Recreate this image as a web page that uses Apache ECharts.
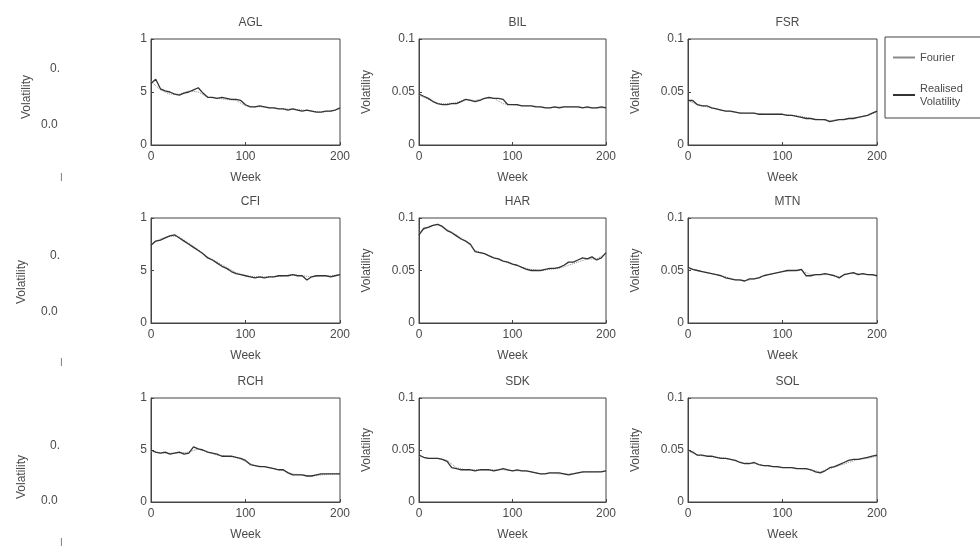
<!DOCTYPE html>
<html><head><meta charset="utf-8">
<script src="https://cdn.jsdelivr.net/npm/echarts@6/dist/echarts.min.js"></script>
<style>html,body{margin:0;padding:0;background:#fff}#c{width:980px;height:557px}</style>
</head><body><div id="c"></div>
<script>
const stocks = ['AGL','BIL','FSR','CFI','HAR','MTN','RCH','SDK','SOL'];
const xTicks = [0,100,200];
const yTicks = [0,0.05,0.1];
// Realised volatility, sampled every 5 weeks (weeks 0..200)
const realAGL = [0.058,0.062,0.053,0.051,0.050,0.048,0.047,0.049,0.050,0.052,
 0.054,0.049,0.045,0.045,0.044,0.045,0.044,0.043,0.043,0.042,
 0.038,0.036,0.036,0.037,0.036,0.035,0.035,0.034,0.034,0.033,
 0.034,0.033,0.032,0.033,0.032,0.031,0.031,0.032,0.032,0.033,0.035];
const realBIL = [0.048,0.046,0.044,0.041,0.039,0.038,0.038,0.039,0.039,0.041,
 0.043,0.042,0.041,0.042,0.044,0.045,0.044,0.044,0.043,0.038,
 0.038,0.038,0.037,0.037,0.037,0.036,0.036,0.035,0.035,0.036,
 0.035,0.036,0.036,0.036,0.036,0.035,0.036,0.035,0.035,0.036,0.035];
const realFSR = [0.042,0.042,0.038,0.037,0.037,0.035,0.034,0.033,0.032,0.032,
 0.031,0.030,0.030,0.030,0.030,0.029,0.029,0.029,0.029,0.029,
 0.029,0.028,0.028,0.027,0.026,0.025,0.025,0.024,0.024,0.024,
 0.022,0.023,0.024,0.024,0.025,0.025,0.026,0.027,0.028,0.030,0.032];
const realCFI = [0.074,0.078,0.079,0.081,0.083,0.084,0.081,0.078,0.075,0.072,
 0.069,0.066,0.062,0.060,0.057,0.054,0.052,0.049,0.047,0.046,
 0.045,0.044,0.043,0.044,0.043,0.044,0.044,0.045,0.045,0.045,
 0.046,0.045,0.045,0.041,0.044,0.045,0.045,0.045,0.044,0.045,0.046];
const realHAR = [0.084,0.090,0.091,0.093,0.094,0.092,0.088,0.086,0.083,0.080,
 0.078,0.075,0.068,0.067,0.066,0.064,0.062,0.061,0.059,0.058,
 0.056,0.055,0.053,0.051,0.050,0.050,0.050,0.051,0.052,0.052,
 0.053,0.055,0.058,0.058,0.060,0.062,0.061,0.063,0.060,0.062,0.067];
const realMTN = [0.053,0.051,0.050,0.049,0.048,0.047,0.046,0.045,0.043,0.042,
 0.041,0.041,0.040,0.042,0.042,0.043,0.045,0.046,0.047,0.048,
 0.049,0.050,0.050,0.050,0.051,0.045,0.045,0.046,0.046,0.047,
 0.046,0.045,0.043,0.046,0.047,0.048,0.046,0.047,0.046,0.046,0.045];
const realRCH = [0.050,0.048,0.047,0.048,0.046,0.047,0.048,0.046,0.047,0.053,
 0.051,0.050,0.048,0.047,0.046,0.044,0.044,0.044,0.043,0.042,
 0.040,0.036,0.035,0.034,0.034,0.033,0.032,0.031,0.031,0.028,
 0.026,0.026,0.026,0.025,0.025,0.026,0.027,0.027,0.027,0.027,0.027];
const realSDK = [0.045,0.043,0.042,0.042,0.042,0.041,0.039,0.033,0.032,0.031,
 0.031,0.031,0.030,0.031,0.031,0.031,0.030,0.031,0.032,0.031,
 0.030,0.031,0.030,0.030,0.029,0.028,0.027,0.027,0.028,0.028,
 0.028,0.027,0.026,0.027,0.028,0.029,0.029,0.029,0.029,0.029,0.030];
const realSOL = [0.050,0.048,0.045,0.045,0.044,0.044,0.043,0.042,0.042,0.041,
 0.040,0.038,0.037,0.037,0.038,0.036,0.035,0.035,0.034,0.034,
 0.033,0.033,0.033,0.032,0.032,0.032,0.031,0.029,0.028,0.030,
 0.033,0.034,0.036,0.038,0.040,0.041,0.041,0.042,0.043,0.044,0.045];
// Fourier estimate, sampled every 10 weeks (weeks 0..200)
const fourAGL = [0.060,0.052,0.048,0.048,0.051,0.050,0.045,0.044,0.043,0.042,0.037,0.036,0.036,0.035,0.034,0.034,0.033,0.032,0.031,0.032,0.034];
const fourBIL = [0.047,0.043,0.039,0.039,0.040,0.043,0.042,0.044,0.044,0.039,0.038,0.037,0.037,0.036,0.035,0.036,0.036,0.036,0.035,0.035,0.035];
const fourFSR = [0.042,0.038,0.036,0.034,0.032,0.031,0.030,0.030,0.029,0.029,0.029,0.028,0.027,0.025,0.024,0.023,0.024,0.025,0.026,0.028,0.031];
const fourCFI = [0.075,0.080,0.083,0.082,0.076,0.070,0.063,0.058,0.053,0.048,0.045,0.044,0.044,0.044,0.045,0.046,0.045,0.044,0.045,0.045,0.046];
const fourHAR = [0.086,0.092,0.094,0.089,0.084,0.078,0.069,0.066,0.062,0.059,0.056,0.053,0.051,0.050,0.051,0.052,0.055,0.058,0.061,0.061,0.066];
const fourMTN = [0.052,0.050,0.048,0.046,0.044,0.041,0.040,0.042,0.045,0.047,0.049,0.050,0.050,0.046,0.046,0.046,0.044,0.047,0.047,0.046,0.045];
const fourRCH = [0.049,0.047,0.047,0.047,0.048,0.051,0.048,0.045,0.044,0.043,0.039,0.035,0.034,0.032,0.030,0.027,0.026,0.025,0.026,0.027,0.027];
const fourSDK = [0.044,0.042,0.042,0.040,0.033,0.031,0.031,0.031,0.031,0.031,0.030,0.030,0.029,0.027,0.028,0.027,0.027,0.028,0.029,0.029,0.030];
const fourSOL = [0.049,0.045,0.044,0.043,0.042,0.040,0.037,0.037,0.035,0.034,0.033,0.033,0.032,0.031,0.029,0.032,0.035,0.038,0.041,0.042,0.044];

const realData = [realAGL,realBIL,realFSR,realCFI,realHAR,realMTN,realRCH,realSDK,realSOL];
const fourData = [fourAGL,fourBIL,fourFSR,fourCFI,fourHAR,fourMTN,fourRCH,fourSDK,fourSOL];

const colLeft = [151,419,688];
const colW = [189,187,189];
const rowTop = [39,218,398];
const rowH = [106,105,104];
const txt = '#4a4a4a';
const font = 'Liberation Sans, Arial, sans-serif';

const grids=[],xAxes=[],yAxes=[],series=[],titles=[];
const leftFrag = {'0':'0','0.05':'5','0.1':'1'};
stocks.forEach((s,i)=>{
  const r=Math.floor(i/3), c=i%3;
  grids.push({left:colLeft[c],top:rowTop[r],width:colW[c],height:rowH[r],show:true,borderColor:'#444',borderWidth:1,backgroundColor:'transparent'});
  titles.push({text:s,left:colLeft[c]+colW[c]/2,top:rowTop[r]-27,textAlign:'center',textStyle:{fontSize:12,fontWeight:'normal',color:txt,fontFamily:font}});
  xAxes.push({gridIndex:i,type:'value',min:0,max:200,interval:100,
    axisLine:{lineStyle:{color:'#444'}},axisTick:{inside:true,length:3,lineStyle:{color:'#444'}},
    splitLine:{show:false},axisLabel:{color:txt,fontSize:12,fontFamily:font,margin:6},
    name:'Week',nameLocation:'middle',nameGap:27,nameTextStyle:{color:txt,fontSize:12,fontFamily:font}});
  const y={gridIndex:i,type:'value',min:0,max:0.1,interval:0.05,
    axisLine:{lineStyle:{color:'#444'}},axisTick:{inside:true,length:3,lineStyle:{color:'#444'}},
    splitLine:{show:false},axisLabel:{color:txt,fontSize:12,fontFamily:font,margin:4}};
  if(c===0){ y.axisLabel.formatter=v=>leftFrag[String(+v.toFixed(2))]; }
  else { y.name='Volatility'; y.nameLocation='middle'; y.nameGap=46; y.nameRotate=90;
    y.nameTextStyle={color:txt,fontSize:12,fontFamily:font}; }
  yAxes.push(y);
  series.push({name:'Fourier',type:'line',xAxisIndex:i,yAxisIndex:i,showSymbol:false,
    data:fourData[i].map((v,k)=>[k*10,v]),lineStyle:{color:'#8a8a8a',width:1,type:'dotted'},itemStyle:{color:'#8a8a8a'},z:2});
  series.push({name:'Realised\nVolatility',type:'line',xAxisIndex:i,yAxisIndex:i,showSymbol:false,
    data:realData[i].map((v,k)=>[k*5,v]),lineStyle:{color:'#333',width:1.3},itemStyle:{color:'#333'},z:3});
});

const graphics=[];
const leftRows=[[70,126,97,180,27],[257,313,282,365,22],[447,502,477,545,22]];
leftRows.forEach(([a,b,v,t,vx])=>{
  graphics.push({type:'text',left:50,top:a-7,style:{text:'0.',fill:txt,font:'12px '+font}});
  graphics.push({type:'text',left:41,top:b-7,style:{text:'0.0',fill:txt,font:'12px '+font}});
  graphics.push({type:'text',x:vx,y:v,rotation:Math.PI/2,style:{text:'Volatility',fill:txt,font:'12px '+font,align:'center',verticalAlign:'middle'}});
  graphics.push({type:'text',left:60,top:t-7,style:{text:'I',fill:'#777',font:'10px '+font}});
});

const chart=echarts.init(document.getElementById('c'),null,{renderer:'canvas'});
chart.setOption({
  backgroundColor:'#fff',animation:false,
  title:titles,grid:grids,xAxis:xAxes,yAxis:yAxes,series:series,graphic:graphics,
  legend:{data:['Fourier','Realised\nVolatility'],orient:'vertical',left:885,top:37,
    padding:[14,20,10,8],itemGap:18,itemWidth:22,itemHeight:2,icon:'rect',
    borderColor:'#444',borderWidth:1,backgroundColor:'#fff',
    textStyle:{color:txt,fontSize:11,fontFamily:font,lineHeight:13}}
});
</script></body></html>
